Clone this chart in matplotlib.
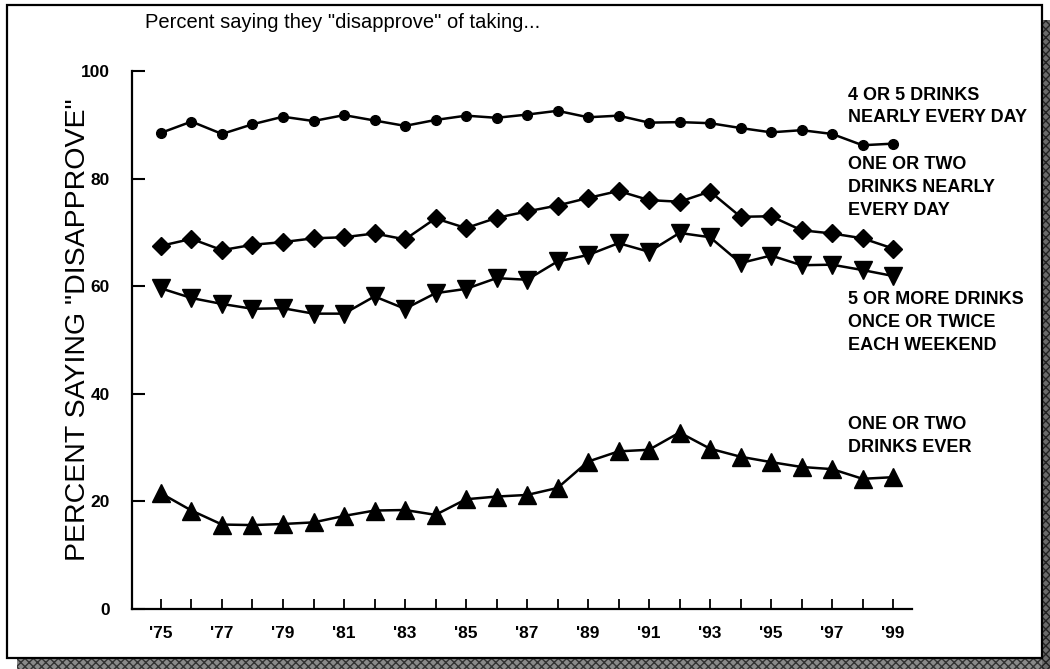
import numpy as np
import matplotlib
matplotlib.use("Agg")
import matplotlib.pyplot as plt
from matplotlib.patches import Rectangle

# survey years, 1975 - 1999
years = np.arange(1975, 2000)
tick_years = np.arange(1975, 2000, 2)
tick_labels = ["'" + str(y)[2:] for y in tick_years]

# percent saying they disapprove
heavy_daily = [88.5, 90.6, 88.3, 90.1, 91.5, 90.7, 91.8, 90.8, 89.8, 90.9, 91.7, 91.3, 91.9,
               92.6, 91.4, 91.7, 90.4, 90.5, 90.3, 89.4, 88.6, 89.0, 88.3, 86.2, 86.5]
light_daily = [67.5, 68.8, 66.7, 67.7, 68.2, 68.9, 69.1, 69.8, 68.7, 72.6, 70.8, 72.7, 73.9,
               75.0, 76.4, 77.7, 76.0, 75.7, 77.6, 72.9, 73.0, 70.4, 69.8, 68.9, 67.0]
binge_weekend = [59.6, 57.8, 56.7, 55.8, 55.9, 54.9, 54.9, 58.1, 55.8, 58.7, 59.5, 61.5, 61.2,
                 64.6, 65.8, 68.0, 66.4, 69.9, 69.1, 64.3, 65.7, 63.9, 64.0, 63.0, 61.9]
try_once = [21.5, 18.3, 15.7, 15.6, 15.8, 16.1, 17.3, 18.3, 18.4, 17.5, 20.4, 20.9, 21.2,
            22.5, 27.4, 29.3, 29.6, 32.8, 29.8, 28.3, 27.3, 26.4, 26.0, 24.2, 24.5]

series_labels = ["4 OR 5 DRINKS\nNEARLY EVERY DAY",
                 "ONE OR TWO\nDRINKS NEARLY\nEVERY DAY",
                 "5 OR MORE DRINKS\nONCE OR TWICE\nEACH WEEKEND",
                 "ONE OR TWO\nDRINKS EVER"]
label_y = [93.4, 78.4, 53.3, 32.2]

plt.rcParams['font.family'] = ['Liberation Sans', 'DejaVu Sans']

fig = plt.figure(figsize=(10.5, 6.69), dpi=100)

# outer frame with a stippled shadow on the right and bottom
W, H = 1050.0, 669.0
fig.patches.append(Rectangle((17 / W, 0), 1 - 17 / W, 11 / H, transform=fig.transFigure,
                             facecolor='#8a8a8a', hatch='xxxx', edgecolor='#333333', lw=0,
                             zorder=-10))
fig.patches.append(Rectangle((1042 / W, 0), 8 / W, 1 - 20 / H, transform=fig.transFigure,
                             facecolor='#6a6a6a', hatch='xxxx', edgecolor='#222222', lw=0,
                             zorder=-10))
fig.patches.append(Rectangle((7 / W, 11 / H), 1035 / W, 653 / H, transform=fig.transFigure,
                             facecolor='white', edgecolor='black', lw=1.6, zorder=-9))

ax = fig.add_axes([132 / W, 60 / H, 780 / W, 538 / H])
ax.set_facecolor('none')

ax.plot(years, heavy_daily, color='black', lw=1.8, marker='o', ms=7)
ax.plot(years, light_daily, color='black', lw=1.8, marker='D', ms=9.5)
ax.plot(years, binge_weekend, color='black', lw=1.8, marker='v', ms=13)
ax.plot(years, try_once, color='black', lw=1.8, marker='^', ms=13)

for txt, yy in zip(series_labels, label_y):
    ax.text(1997.52, yy, txt, fontsize=13, fontweight='bold', va='center', ha='left',
            linespacing=1.45, clip_on=False)

ax.set_xlim(1974.05, 1999.62)
ax.set_ylim(0, 100)
ax.spines['top'].set_visible(False)
ax.spines['right'].set_visible(False)
ax.spines['left'].set_linewidth(1.6)
ax.spines['bottom'].set_linewidth(1.6)

ax.set_xticks(years, minor=True)
ax.set_xticks(tick_years)
ax.set_xticklabels(tick_labels)
ax.set_yticks([0, 20, 40, 60, 80, 100])
ax.tick_params(axis='y', direction='in', length=9, width=1.5, pad=16, labelsize=12.5)
ax.tick_params(axis='x', which='both', direction='in', length=7, width=1.3, pad=12, labelsize=12.5)
for lab in ax.get_xticklabels() + ax.get_yticklabels():
    lab.set_fontweight('bold')

ax.set_ylabel('PERCENT SAYING "DISAPPROVE"', fontsize=20.5)
ax.yaxis.set_label_coords(-0.052, 0.519)
fig.text(145 / W, 1 - 28 / H, 'Percent saying they "disapprove" of taking...', fontsize=14.5,
         va='baseline', ha='left')

fig.savefig('out.png', dpi=100)
